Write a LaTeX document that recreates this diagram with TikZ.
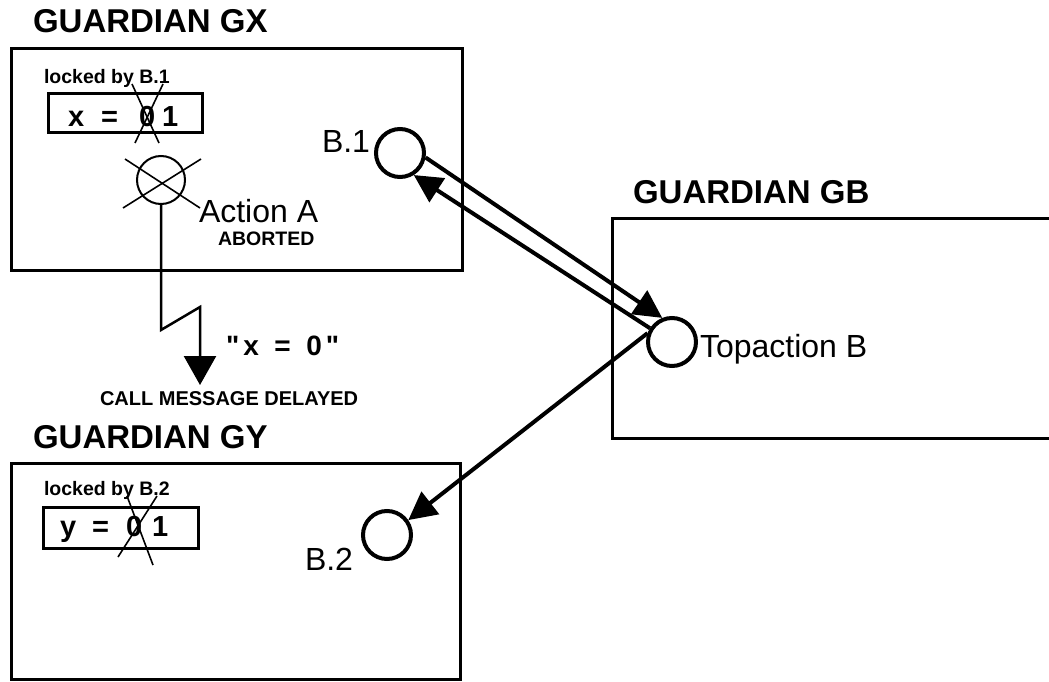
\documentclass[tikz,border=0pt]{standalone}
\usepackage{fontspec}
\setmainfont{Liberation Sans}
\newfontfamily\qfont{Liberation Sans}[Ligatures=TeXOff]
\usetikzlibrary{arrows.meta}
\newcommand{\fsz}[1]{\fontsize{#1}{#1}\selectfont}
\begin{document}
\begin{tikzpicture}[x=1pt,y=-1pt,
  txt/.style={inner sep=0pt, outer sep=0pt, anchor=base west},
  title/.style={txt, font=\fsz{33}\bfseries},
  big/.style={txt, font=\fsz{32}},
  small/.style={txt, font=\fsz{19.5}\bfseries},
  lock/.style={txt, font=\fsz{19.5}\bfseries},
  val/.style={txt, font=\fsz{29}\bfseries},
  frame/.style={line width=3pt},
  valbox/.style={line width=3pt},
  bcirc/.style={circle, draw, line width=4pt, minimum size=48pt, inner sep=0pt},
  acirc/.style={circle, draw, line width=2pt, minimum size=48pt, inner sep=0pt},
  cross/.style={line width=1.6pt},
  arr/.style={line width=4pt, -{Triangle[length=28pt,width=28pt]}},
  msg/.style={line width=2.5pt, -{Triangle[length=29pt,width=32pt]}}
]
\useasboundingbox (0,0) rectangle (1049,682);

% ---- Guardian GX ----
\node[title] (tgx) at (33,33) {GUARDIAN GX};
\draw[frame] (11,49) rectangle (462,270);
\node[lock] (lkx) at (44,84) {locked by B.1};
\draw[valbox] (48,94) rectangle (202,133);
\node[val] (vx) at (68,127) {x\hspace{17pt}=\hspace{21pt}0\hspace{7pt}1};
\draw[cross] (132,84) -- (159,143);
\draw[cross] (163,84) -- (135,143);

\node[acirc] (A) at (161,180) {};
\draw[cross] (123,208) -- (201,159);
\draw[cross] (125,159) -- (200,208);
\node[big] (la) at (199,222) {Action A};
\node[small] (ab) at (218,245) {ABORTED};

\node[bcirc] (B1) at (400,153) {};
\node[big] (lb1) at (322,153) {B.1};

% ---- message ----
\coordinate (z1) at (161,330);
\coordinate (z2) at (200,307);
\coordinate (msgend) at (200,385);
\draw[msg] (A.south) -- (z1) -- (z2) -- (msgend);
\node[txt, font=\fsz{28}\bfseries\qfont] (mx) at (226,355) {"\hspace{4pt}x\ \ =\ \ 0\hspace{4pt}"};
\node[txt, font=\fsz{20}\bfseries] (cm) at (100,405) {CALL MESSAGE DELAYED};

% ---- Guardian GB ----
\node[title] (tgb) at (633,203) {GUARDIAN GB};
\draw[frame] (1052,218) -- (612,218) -- (612,438) -- (1052,438);
\node[bcirc] (TB) at (672,342) {};
\node[big] (ltb) at (700,357) {Topaction B};

% ---- Guardian GY ----
\node[title] (tgy) at (33,448) {GUARDIAN GY};
\draw[frame] (11,463) rectangle (460,679);
\node[lock] (lky) at (44,495) {locked by B.2};
\draw[valbox] (43,507) rectangle (198,548);
\node[val] (vy) at (60,536) {y\hspace{16pt}=\hspace{17pt}0\hspace{10pt}1};
\draw[cross] (127,496) -- (153,565);
\draw[cross] (157,496) -- (118,557);

\node[bcirc] (B2) at (387,535) {};
\node[big] (lb2) at (305,570) {B.2};

% ---- connectors ----
\draw[arr] (B1.-10) -- (TB.112);
\draw[arr] (TB.148) -- (B1.-58);
\draw[arr] (TB.160) -- (B2.35);
\end{tikzpicture}
\end{document}
